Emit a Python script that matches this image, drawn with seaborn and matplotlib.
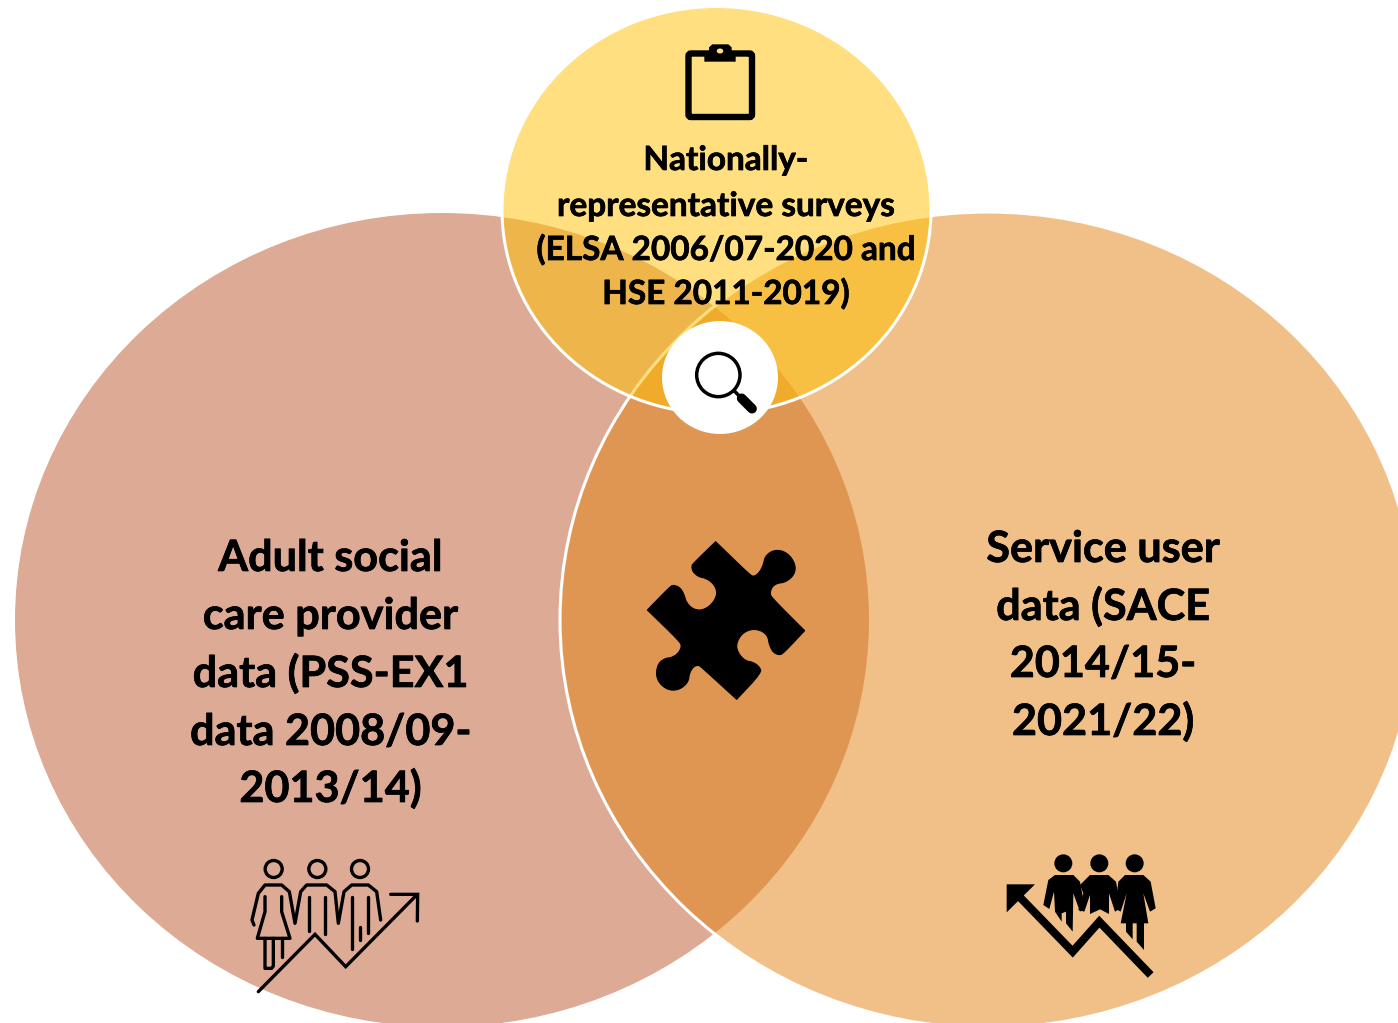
import numpy as np
import matplotlib
matplotlib.use('Agg')
import matplotlib.pyplot as plt
import matplotlib.patheffects as pe
from matplotlib.patches import Ellipse, Polygon, FancyBboxPatch
import seaborn as sns

# Circles of the venn (centre x, centre y, radius x, radius y) in picture pixels
LEFT_CIRCLE = (442, 620, 427, 407)
RIGHT_CIRCLE = (988, 620, 428, 408)
TOP_CIRCLE = (716.5, 210, 214.5, 203.5)
LENS_DISC = (720, 377.5, 58, 56.5)

LEFT_COLOR = '#BD582C'
RIGHT_COLOR = '#E48312'
TOP_COLOR = '#FFC000'

# Labels, one line at a time
LEFT_LINES = ['Adult social', 'care provider', 'data (PSS-EX1', 'data 2008/09-', '2013/14)']
LEFT_BASE = [571, 629, 687, 745, 802]
RIGHT_LINES = ['Service user', 'data (SACE', '2014/15-', '2021/22)']
RIGHT_BASE = [562, 620, 677, 735]
TOP_LINES = ['Nationally-', 'representative surveys', '(ELSA 2006/07-2020 and', 'HSE 2011-2019)']
TOP_BASE = [170, 216, 260, 304]

OUTLINE_ORIGIN = (230, 840)
OUTLINE_HEADS = [(131, 87), (262, 87), (390, 87)]
OUTLINE_STROKES = [
    [(72, 255), (66, 240), (85, 160), (105, 135), (155, 135), (178, 155), (195, 250), (212, 155), (230, 135),
     (290, 135), (315, 155), (325, 250), (342, 155), (365, 135), (415, 135), (440, 155), (452, 240)],
    [(105, 170), (105, 215), (82, 295), (180, 295), (155, 215), (155, 170)],
    [(105, 295), (105, 385), (125, 385), (130, 378), (130, 295)],
    [(155, 295), (155, 352)],
    [(238, 170), (238, 272)],
    [(285, 170), (285, 282)],
    [(365, 170), (365, 328)],
    [(413, 170), (413, 278)],
    [(390, 260), (390, 300)],
]
OUTLINE_ARROW = [(85, 455), (255, 283), (347, 380), (560, 165)]
OUTLINE_ARROWHEAD = [(482, 163), (563, 163), (562, 243)]

SOLID_ORIGIN = (990, 840)
SOLID_HEADS = [(220, 70), (328, 70), (434, 70)]
SOLID_BODIES = [
    [(160, 195), (175, 120), (195, 105), (250, 105), (270, 125), (285, 205), (270, 215), (250, 160), (248, 275),
     (228, 250), (228, 215), (215, 220), (215, 245), (195, 215), (192, 155), (178, 207)],
    [(270, 135), (300, 105), (355, 105), (378, 125), (392, 205), (375, 215), (357, 160), (357, 222), (330, 208),
     (300, 222), (300, 165), (283, 215), (265, 210), (280, 160)],
    [(385, 125), (405, 105), (460, 105), (482, 125), (497, 205), (480, 215), (460, 160), (475, 250), (462, 250),
     (462, 330), (440, 305), (440, 250), (428, 250), (428, 298), (408, 275), (408, 250), (392, 250), (410, 160),
     (392, 215), (375, 205)],
]
SOLID_ARROW = [(482, 405), (328, 245), (248, 335), (90, 172)]
SOLID_ARROWHEAD = [(50, 133), (135, 133), (50, 217)]

PUZZLE_ORIGIN = (630, 530)
# four runs between the sharp corners of the piece
PUZZLE_RUNS = [
    [(257, 35), (360, 135), (372, 140), (388, 128), (400, 105), (405, 80), (425, 63), (450, 60), (475, 72),
     (492, 95), (497, 118), (488, 140), (465, 157), (440, 160), (425, 172), (420, 190), (425, 203), (524, 302)],
    [(524, 302), (460, 370), (448, 375), (430, 368), (418, 345), (414, 320), (400, 305), (375, 297), (350, 302),
     (330, 318), (318, 345), (325, 370), (345, 392), (370, 397), (388, 410), (395, 428), (320, 508)],
    [(320, 508), (215, 412), (205, 405), (190, 410), (178, 430), (175, 455), (155, 475), (130, 482), (105, 475),
     (85, 455), (78, 430), (85, 400), (105, 385), (125, 383), (145, 370), (155, 350), (150, 335), (52, 240)],
    [(52, 240), (120, 170), (130, 165), (150, 172), (163, 195), (168, 215), (185, 235), (210, 242), (235, 232),
     (255, 210), (262, 185), (250, 160), (228, 145), (205, 140), (188, 125), (185, 108), (190, 100), (257, 35)],
]

BOARD_ORIGIN = (670, 30)
BOARD_TAB = [(103, 95), (197, 95), (197, 72), (185, 66), (185, 52), (175, 43), (127, 43), (117, 52), (117, 66), (103, 72)]

GLASS_ORIGIN = (620, 290)
GLASS_RING = (295, 255, 65)
GLASS_NECK = [(342, 302), (362, 322)]
GLASS_HANDLE = [(365, 325), (396, 356)]


def to_px(points, origin):
    pts = np.array(points, dtype=float)
    return pts / 3 + np.array(origin)


def rounded(run, passes=2):
    # corner cutting, the two ends of the run stay put
    pts = np.array(run, dtype=float)
    for _ in range(passes):
        q = pts[:-1] * 0.75 + pts[1:] * 0.25
        r = pts[:-1] * 0.25 + pts[1:] * 0.75
        mid = np.empty((len(q) * 2, 2))
        mid[0::2] = q
        mid[1::2] = r
        pts = np.vstack([pts[0], mid, pts[-1]])
    return pts


def stroke(ax, points, origin, width, cap='round', join='round', color='black'):
    pts = to_px(points, origin)
    sns.lineplot(x=pts[:, 0], y=pts[:, 1], sort=False, estimator=None, color=color, linewidth=width,
                 solid_capstyle=cap, solid_joinstyle=join, zorder=5, ax=ax)


def venn_circle(ax, spec, color, edge, alpha=0.5):
    cx, cy, rx, ry = spec
    ax.add_patch(Ellipse((cx, cy), rx * 2, ry * 2, facecolor=matplotlib.colors.to_rgba(color, alpha),
                         edgecolor=edge, linewidth=2.2))


sns.set_theme(style='white')
plt.rcParams['font.family'] = ['Lato', 'DejaVu Sans']

fig = plt.figure(figsize=(13.98, 10.23), dpi=100)
ax = fig.add_axes([0, 0, 1, 1])

venn_circle(ax, LEFT_CIRCLE, LEFT_COLOR, 'none')
venn_circle(ax, RIGHT_CIRCLE, RIGHT_COLOR, 'white')
venn_circle(ax, TOP_CIRCLE, TOP_COLOR, 'white')

# white disc behind the magnifying glass
cx, cy, rx, ry = LENS_DISC
ax.add_patch(Ellipse((cx, cy), rx * 2, ry * 2, facecolor='white', edgecolor='none', zorder=3))

# outline people, rising arrow
for head in OUTLINE_HEADS:
    c = to_px([head], OUTLINE_ORIGIN)[0]
    ax.add_patch(Ellipse(c, 17, 17, facecolor='none', edgecolor='black', linewidth=2.4, zorder=4))
for part in OUTLINE_STROKES:
    stroke(ax, part, OUTLINE_ORIGIN, 2.4)
stroke(ax, OUTLINE_ARROW, OUTLINE_ORIGIN, 2.4, join='miter')
stroke(ax, OUTLINE_ARROWHEAD, OUTLINE_ORIGIN, 2.4, join='miter')

# solid people, falling arrow
for head in SOLID_HEADS:
    c = to_px([head], SOLID_ORIGIN)[0]
    ax.add_patch(Ellipse(c, 18, 18, facecolor='black', edgecolor='none', zorder=4))
for body in SOLID_BODIES:
    ax.add_patch(Polygon(to_px(body, SOLID_ORIGIN), closed=True, facecolor='black', edgecolor='none', zorder=4))
stroke(ax, SOLID_ARROW, SOLID_ORIGIN, 5.8, cap='butt', join='miter')
ax.add_patch(Polygon(to_px(SOLID_ARROWHEAD, SOLID_ORIGIN), closed=True, facecolor='black', edgecolor='none', zorder=4))

# puzzle piece
puzzle = np.vstack([rounded(run)[:-1] for run in PUZZLE_RUNS])
ax.add_patch(Polygon(to_px(puzzle, PUZZLE_ORIGIN), closed=True, facecolor='black', edgecolor='black',
                     linewidth=0.8, joinstyle='miter', zorder=4))

# clipboard
ax.add_patch(FancyBboxPatch((688.5, 53.5), 63.5, 63.5, boxstyle='round,pad=0,rounding_size=2.5',
                            facecolor='none', edgecolor='black', linewidth=4.6, zorder=4))
ax.add_patch(Polygon(to_px(BOARD_TAB, BOARD_ORIGIN), closed=True, facecolor='black', edgecolor='none', zorder=4))
ax.add_patch(Ellipse((720, 51), 6.5, 5, facecolor='#FFDF80', edgecolor='none', zorder=5))

# magnifying glass
c = to_px([GLASS_RING[:2]], GLASS_ORIGIN)[0]
ax.add_patch(Ellipse(c, GLASS_RING[2] * 2 / 3, GLASS_RING[2] * 2 / 3, facecolor='none', edgecolor='black',
                     linewidth=2.5, zorder=5))
stroke(ax, GLASS_NECK, GLASS_ORIGIN, 2.5, cap='butt')
stroke(ax, GLASS_HANDLE, GLASS_ORIGIN, 7)

thicker = [pe.withStroke(linewidth=0.5, foreground='black')]
for lines, bases, x, size in [(LEFT_LINES, LEFT_BASE, 330.5, 31.1),
                              (RIGHT_LINES, RIGHT_BASE, 1103, 31.1),
                              (TOP_LINES, TOP_BASE, 726, 24)]:
    for line, base in zip(lines, bases):
        ax.text(x, base, line, ha='center', va='baseline', fontsize=size, fontweight='bold',
                color='black', zorder=6, path_effects=thicker)

ax.set_xlim(0, 1398)
ax.set_ylim(1023, 0)
ax.axis('off')

fig.savefig('out.png', dpi=100)
